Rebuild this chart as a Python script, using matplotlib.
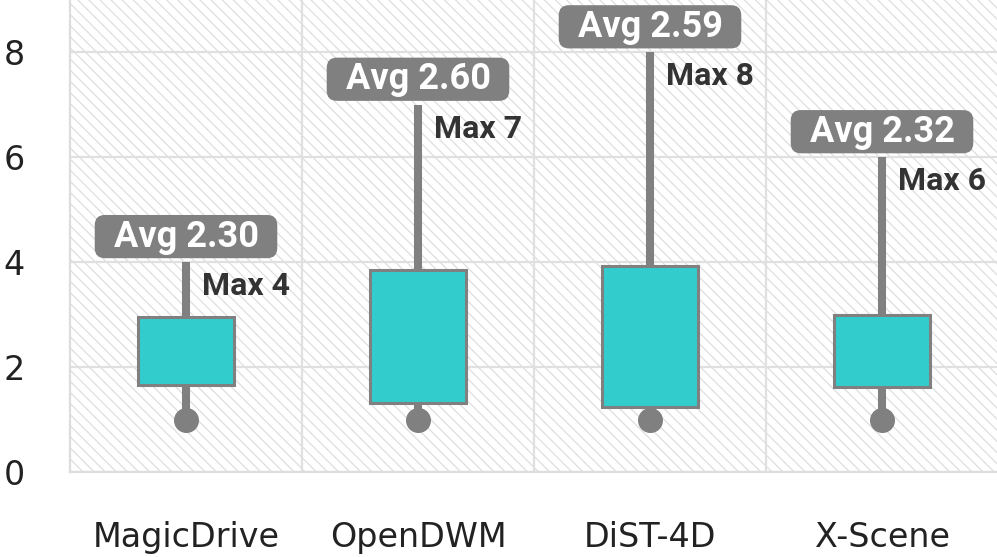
import matplotlib
matplotlib.use("Agg")
import matplotlib.pyplot as plt
from matplotlib.patches import Rectangle, BoxStyle

categories = ["MagicDrive", "OpenDWM", "DiST-4D", "X-Scene"]
q1 = [1.65, 1.32, 1.24, 1.63]
q3 = [2.96, 3.86, 3.93, 3.00]
mins = [1, 1, 1, 1]
maxs = [4, 7, 8, 6]
avgs = [2.30, 2.60, 2.59, 2.32]
yticks = [0, 2, 4, 6, 8]

plt.rcParams["hatch.linewidth"] = 0.9


def label_box(x0, y0, width, height, mutation_size):
    padx = 0.52 * mutation_size
    pady = 0.10 * mutation_size
    return BoxStyle.Round(pad=0, rounding_size=0.28)(
        x0 - padx, y0 - pady, width + 2 * padx, height + 2 * pady, mutation_size)


fig = plt.figure(figsize=(9.97, 5.57), dpi=100)
ax = fig.add_axes([70 / 997, 85 / 557, 928 / 997, 472 / 557])
ax.set_xlim(-0.5, 3.5)
ax.set_ylim(0, 9)

# hatched background
ax.add_patch(Rectangle((0, 0), 1, 1, transform=ax.transAxes, facecolor="white",
                       edgecolor="#dedede", hatch="\\\\\\", linewidth=0, zorder=0))

x = list(range(len(categories)))
gray = "#808080"

# whiskers
ax.vlines(x, q3, maxs, color=gray, linewidth=5.8, zorder=3)
ax.vlines(x, mins, q1, color=gray, linewidth=5.8, zorder=3)
ax.plot(x, mins, "o", color=gray, markersize=17, zorder=4)
# boxes
ax.bar(x, [b - a for a, b in zip(q1, q3)], bottom=q1, width=0.41,
       color="#33CCCC", edgecolor=gray, linewidth=2.2, zorder=5)

for xi, mx, av in zip(x, maxs, avgs):
    ax.annotate(f"Avg {av:.2f}", xy=(xi, mx), xytext=(0, 5.5), textcoords="offset points",
                ha="center", va="bottom", fontsize=26, fontweight="bold", color="white",
                family="Roboto", zorder=7,
                bbox=dict(boxstyle=label_box, facecolor=gray, edgecolor="none"))
    ax.annotate(f"Max {mx}", xy=(xi, mx), xytext=(11.5, -17), textcoords="offset points",
                ha="left", va="center", fontsize=23, fontweight="bold", color="#333333",
                family="Roboto", zorder=7)

ax.set_xticks(x)
ax.set_xticklabels(categories, fontsize=24, family="DejaVu Sans", color="#222222")
ax.set_xticks([0.5, 1.5, 2.5], minor=True)
ax.set_yticks(yticks)
ax.set_yticklabels([str(t) for t in yticks], fontsize=24, family="DejaVu Sans", color="#222222")
ax.tick_params(axis="both", which="both", length=0)
ax.tick_params(axis="x", which="major", pad=35)
for lab in ax.get_yticklabels():
    lab.set_horizontalalignment("left")
ax.yaxis.set_tick_params(pad=48)

ax.grid(False)
ax.yaxis.grid(True, color="#e0e0e0", linewidth=1.6, zorder=1)
ax.xaxis.grid(True, which="minor", color="#e0e0e0", linewidth=1.6, zorder=1)
ax.set_axisbelow(True)
for s in ["top", "right"]:
    ax.spines[s].set_visible(False)
for s in ["left", "bottom"]:
    ax.spines[s].set_color("#dddddd")
    ax.spines[s].set_linewidth(1.6)

fig.savefig("out.png", dpi=100)
